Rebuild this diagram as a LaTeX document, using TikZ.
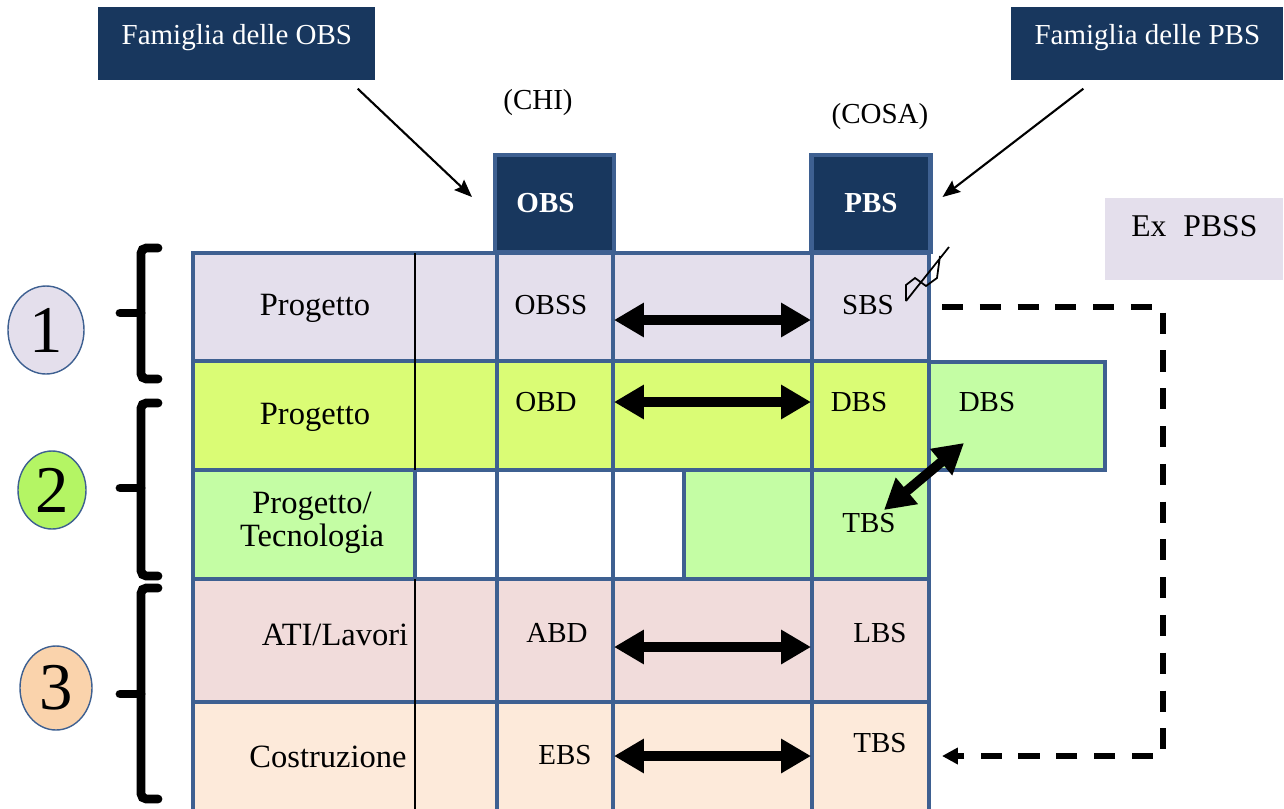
\documentclass[tikz,border=0pt]{standalone}
\usepackage{fontspec}
\setmainfont{Liberation Serif}
\usetikzlibrary{arrows.meta,positioning,shapes.geometric}

\definecolor{navy}{RGB}{24,55,94}
\definecolor{steel}{RGB}{62,96,145}
\definecolor{lav}{RGB}{228,223,236}
\definecolor{ygreen}{RGB}{218,252,117}
\definecolor{lgreen}{RGB}{196,253,164}
\definecolor{rosa}{RGB}{241,220,219}
\definecolor{pesca}{RGB}{253,234,218}
\definecolor{verde}{RGB}{180,245,100}
\definecolor{arancio}{RGB}{250,211,172}

\tikzset{
  famiglia/.style={fill=navy, text=white, anchor=north west, inner xsep=0pt, inner ysep=0pt,
    font=\fontsize{16.5}{19}\selectfont},
  testata/.style={fill=navy, draw=steel, line width=2.3pt, text=white, minimum width=23.8mm,
    minimum height=19.4mm, font=\bfseries\fontsize{16.5}{19}\selectfont},
  griglia/.style={draw=steel, line width=2.3pt},
  sottile/.style={draw=black, line width=0.8pt},
  voce/.style={font=\fontsize{18.5}{18.7}\selectfont, inner sep=0pt, align=center},
  sigla/.style={font=\fontsize{16.5}{19}\selectfont, inner sep=0pt},
  freccia/.style={line width=5.6pt, {Triangle[length=17pt,width=18.5pt]}-{Triangle[length=17pt,width=18.5pt]}},
  rinvio/.style={line width=1.2pt, -{Stealth[length=10pt,width=8pt,inset=1.5pt]}},
  tratteggio/.style={line width=3.2pt, dash pattern=on 12pt off 9.5pt, -{Triangle[length=9pt,width=9pt]}},
  graffa/.style={line width=5pt, rounded corners=3pt, line cap=round},
  numero/.style={ellipse, draw=steel, line width=0.8pt, inner sep=0pt, font=\fontsize{38}{40}\selectfont},
}

\begin{document}
\begin{tikzpicture}[x=0.2mm, y=-0.2mm]
  \useasboundingbox (0,0) rectangle (1284,809);

  % -- Famiglie --
  \node[famiglia, minimum width=55.4mm, text height=7.5mm, text depth=7.1mm] (famobs) at (98,7) {Famiglia delle OBS};
  \node[famiglia, minimum width=54.4mm, text height=7.5mm, text depth=7.1mm] (fampbs) at (1011,7) {Famiglia delle PBS};
  \node[famiglia, fill=lav, text=black, minimum width=35.6mm, text height=7.6mm, text depth=8.8mm,
    font=\fontsize{18}{19}\selectfont] (expbss) at (1105,198) {Ex\hspace{3.4mm}PBSS};

  % -- Testate OBS / PBS --
  \node[testata] (obs) at (554.5,203.5) {OBS\hspace*{3.6mm}};
  \node[testata] (pbs) at (871,203.5) {PBS};
  \node[sigla] (chi) at (538,103) {(CHI)};
  \node[sigla] (cosa) at (880,117) {(COSA)};

  \draw[rinvio] ([shift={(-18,8)}]famobs.south east) -- ([shift={(-21,-6.5)}]obs.west);
  \draw[rinvio] ([shift={(-64,8)}]fampbs.south) -- ([shift={(10,-6.5)}]pbs.east);

  % -- Righe --
  \fill[lav] (193,253) rectangle (929,361);
  \fill[ygreen] (193,361) rectangle (929,470);
  \fill[lgreen] (193,470) rectangle (415,579);
  \fill[lgreen] (684,470) rectangle (929,579);
  \fill[rosa] (193,579) rectangle (929,702);
  \fill[pesca] (193,702) rectangle (929,809);
  \draw[griglia, fill=lgreen] (929,362) rectangle (1105,470);

  % -- Griglia --
  \draw[griglia] (193,809) -- (193,253) -- (929,253) -- (929,809);
  \foreach \y in {361,470,579,702} \draw[griglia] (193,\y) -- (929,\y);
  \foreach \x in {497,613,812} \draw[griglia] (\x,253) -- (\x,809);
  \draw[griglia] (415,470) -- (415,579) (684,470) -- (684,579);
  \draw[sottile] (415,253) -- (415,470) (415,579) -- (415,809);

  % -- Voci --
  \node[voce] (prog1) at (315,308) {Progetto};
  \node[voce] (prog2) at (315,417) {Progetto};
  \node[voce] (progtec) at (312,523) {Progetto/\\Tecnologia};
  \node[voce] (ati) at (335,635) {ATI/Lavori};
  \node[voce] (costr) at (328,757) {Costruzione};

  % -- Sigle --
  \node[sigla] (obss) at (551,305) {OBSS};
  \node[sigla] (obd) at (546,402) {OBD};
  \node[sigla] (abd) at (557,633) {ABD};
  \node[sigla] (ebs) at (565,755) {EBS};
  \node[sigla] (sbs) at (868,305) {SBS};
  \node[sigla] (dbs) at (859,402) {DBS};
  \node[sigla] (dbsx) at (987,402) {DBS};
  \node[sigla] (tbs) at (869,523) {TBS};
  \node[sigla] (lbs) at (880,633) {LBS};
  \node[sigla] (tbsx) at (880,743) {TBS};

  % -- Frecce OBS <-> PBS --
  \foreach \n/\y in {1/320, 2/402, 3/647, 4/756} {
    \coordinate (obs\n) at (614,\y);
    \coordinate (pbs\n) at (811,\y);
    \draw[freccia] (obs\n) -- (pbs\n);
  }
  \coordinate (dbsA) at (964,443);
  \coordinate (tbsA) at (884,510);
  \draw[freccia] (tbsA) -- (dbsA);

  % -- Segno sopra SBS --
  \draw[line width=1pt] (906,301) -- (949,247) (940,256) -- (937,278) -- (926,286) -- (915,278) -- (906,285) -- (906,301);

  % -- Rinvio tratteggiato --
  \coordinate (rinvioA) at (942,307);
  \coordinate (rinvioB) at (942,756);
  \draw[tratteggio] (rinvioA) -- (1163,307) -- (1163,756) -- (rinvioB);

  % -- Graffe e numeri --
  \foreach \t/\m/\b in {248/313/379, 403/488/576, 588/694/799} {
    \draw[graffa] (158,\t) -- (141,\t) -- (141,\b) -- (158,\b);
    \draw[graffa] (141,\m) -- (120,\m);
  }
  \node[numero, fill=lav, minimum width=15.2mm, minimum height=17.6mm] (uno) at (46,330) {1};
  \node[numero, fill=verde, minimum width=13.6mm, minimum height=15.6mm] (due) at (52,490) {2};
  \node[numero, fill=arancio, minimum width=14.4mm, minimum height=16.8mm] (tre) at (56,688) {3};

\end{tikzpicture}
\end{document}
